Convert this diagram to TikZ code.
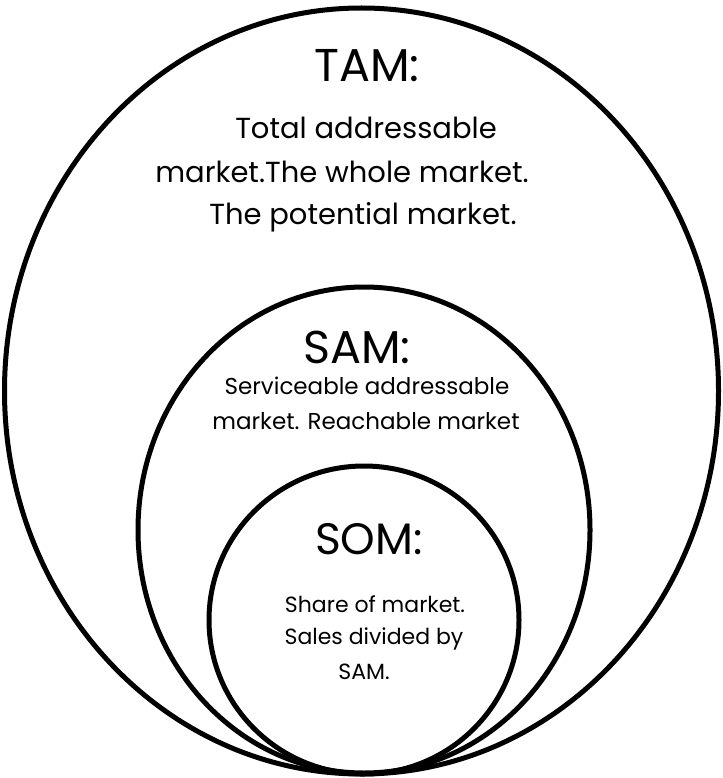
\documentclass[tikz,border=0pt]{standalone}
\usepackage{fontspec}
\setmainfont{Poppins}
\usetikzlibrary{shapes.geometric}
\tikzset{
  ring/.style={ellipse, draw=black, line width=5pt, inner sep=0pt},
  head/.style={inner sep=0pt, font=\fontsize{46}{50}\selectfont},
  tamtext/.style={inner sep=0pt, font=\fontsize{29}{32}\selectfont},
  samtext/.style={inner sep=0pt, font=\fontsize{23}{26}\selectfont},
  somtext/.style={inner sep=0pt, font=\fontsize{22}{25}\selectfont},
}
\begin{document}
\begin{tikzpicture}[x=1pt,y=-1pt]
\useasboundingbox (0,0) rectangle (722,778);
\node[ring, minimum width=714pt, minimum height=766pt] (tam) at (361.5,391) {};
\node[ring, minimum width=452pt, minimum height=486pt] (sam) at (364,530) {};
\node[ring, minimum width=310pt, minimum height=308pt] (som) at (364,620) {};
\node[head] (tamh) at (367,66) {TAM:};
\node[tamtext] (t1) at (366,128) {Total addressable};
\node[tamtext] (t2) at (342,172) {market.The whole market.};
\node[tamtext] (t3) at (363,217) {The potential market.};
\node[head] (samh) at (357,347) {SAM:};
\node[samtext] (s1) at (367,386) {Serviceable addressable};
\node[samtext] (s2) at (366,421) {market. Reachable market};
\node[head, font=\fontsize{44}{48}\selectfont] (somh) at (369,539) {SOM:};
\node[somtext] (o1) at (375,604) {Share of market.};
\node[somtext] (o2) at (374,639) {Sales divided by};
\node[somtext] (o3) at (364,672) {SAM.};
\end{tikzpicture}
\end{document}
